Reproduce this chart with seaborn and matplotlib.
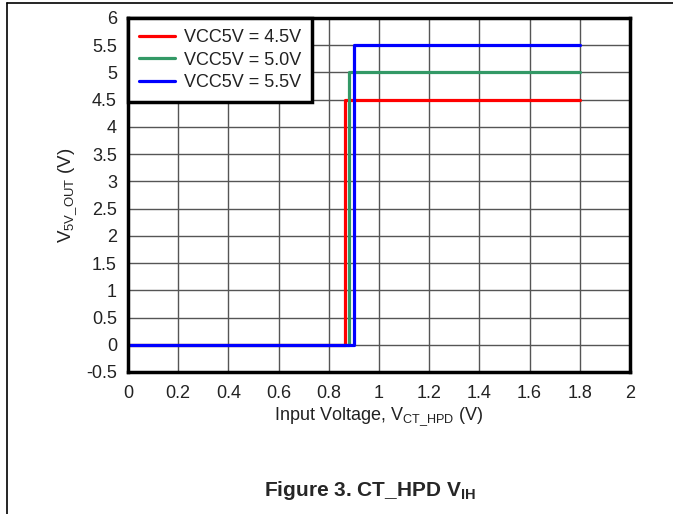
import pandas as pd
import matplotlib.pyplot as plt
import seaborn as sns
from matplotlib.lines import Line2D

# Step curves
series = ["VCC5V = 4.5V", "VCC5V = 5.0V", "VCC5V = 5.5V"]
thresholds = [0.865, 0.882, 0.899]
high_levels = [4.5, 5.0, 5.5]
x_end = 1.8
colors = ["#ff0000", "#339966", "#0000ff"]

x_ticks = [0, 0.2, 0.4, 0.6, 0.8, 1, 1.2, 1.4, 1.6, 1.8, 2]
y_ticks = [-0.5, 0, 0.5, 1, 1.5, 2, 2.5, 3, 3.5, 4, 4.5, 5, 5.5, 6]

rows = []
for name, th, hi in zip(series, thresholds, high_levels):
    for xv, yv in [(0, 0), (th, 0), (th, hi), (x_end, hi)]:
        rows.append({"x": xv, "y": yv, "series": name})
df = pd.DataFrame(rows)

sns.set_style("white")
plt.rcParams["font.family"] = ["Liberation Sans", "DejaVu Sans"]
plt.rcParams["mathtext.fontset"] = "custom"
plt.rcParams["mathtext.rm"] = "Liberation Sans"
plt.rcParams["mathtext.it"] = "Liberation Sans"
plt.rcParams["mathtext.bf"] = "Liberation Sans:bold"

fig = plt.figure(figsize=(6.73, 5.14), dpi=100)
ax = fig.add_axes([128 / 673, 142 / 514, 502 / 673, 354 / 514])

sns.lineplot(data=df, x="x", y="y", hue="series", palette=colors,
             sort=False, estimator=None, lw=2.3, ax=ax)

ax.set_xlim(0, 2)
ax.set_ylim(-0.5, 6)
ax.set_xticks(x_ticks)
ax.set_xticklabels([f"{t:g}" for t in x_ticks])
ax.set_yticks(y_ticks)
ax.set_yticklabels([f"{t:g}" for t in y_ticks])
ax.tick_params(axis="x", length=0, labelsize=13, pad=9, colors="#222222")
ax.tick_params(axis="y", length=0, labelsize=13, pad=8, colors="#222222")
ax.grid(True, color="#555555", lw=1)
for sp in ax.spines.values():
    sp.set_linewidth(2.5)
    sp.set_color("black")

ax.set_xlabel(r"Input Voltage, V$_{\mathrm{CT\_HPD}}$ (V)", fontsize=13, labelpad=3, color="#222222")
ax.set_ylabel(r"V$_{\mathrm{5V\_OUT}}$ (V)", fontsize=13.5, labelpad=5, color="#222222")

leg = ax.legend(loc="upper left", fontsize=13, frameon=True, fancybox=False,
                borderaxespad=0, handlelength=2.0, handletextpad=0.5,
                borderpad=0.6, labelspacing=0.32)
leg.get_frame().set_edgecolor("black")
leg.get_frame().set_linewidth(2.5)
leg.get_frame().set_alpha(1)
for t in leg.get_texts():
    t.set_color("#222222")

fig.text(370 / 673, 1 - 490 / 514, r"Figure 3. CT_HPD V$_{\mathbf{IH}}$",
         ha="center", va="center", fontsize=15, fontweight="bold")

# page frame lines
fig.add_artist(Line2D([7 / 673, 1], [1 - 3 / 514, 1 - 3 / 514], color="black", lw=1.2))
fig.add_artist(Line2D([7 / 673, 7 / 673], [0, 1 - 3 / 514], color="black", lw=1.2))

fig.savefig("out.png", dpi=100)
